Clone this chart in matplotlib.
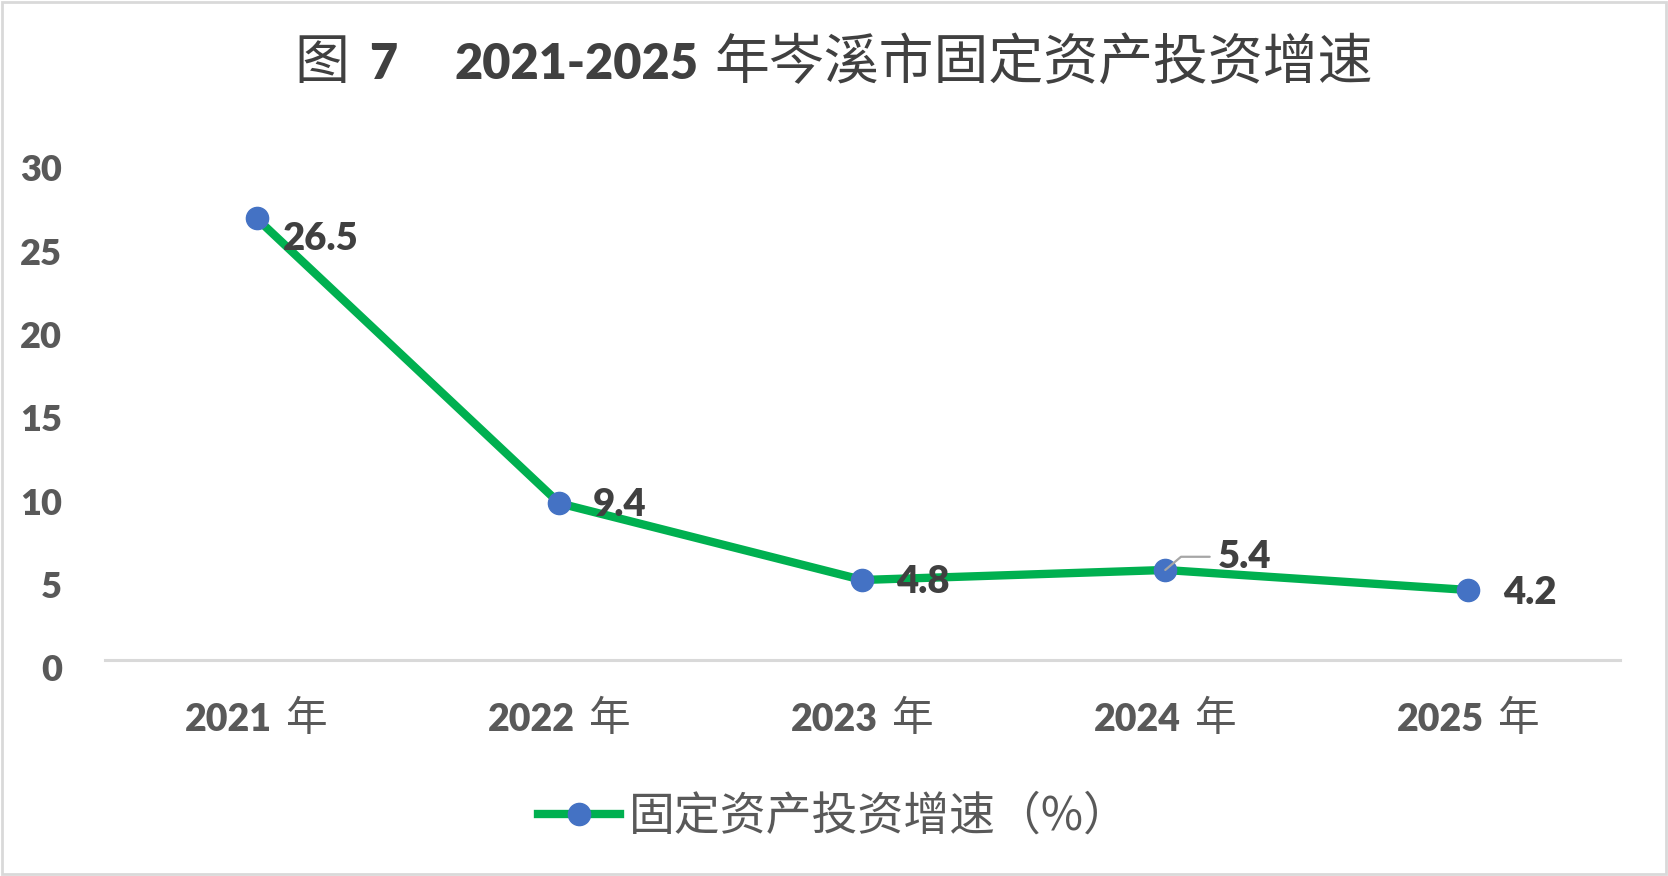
import matplotlib
matplotlib.use("Agg")
import matplotlib.pyplot as plt
from matplotlib.font_manager import FontProperties
from matplotlib.offsetbox import TextArea, HPacker, DrawingArea, AnchoredOffsetbox, AnnotationBbox
from matplotlib.patches import Rectangle
from matplotlib.transforms import ScaledTranslation

years = ["2021", "2022", "2023", "2024", "2025"]
growth = [26.5, 9.4, 4.8, 5.4, 4.2]
y_ticks = [0, 5, 10, 15, 20, 25, 30]
series_name = "固定资产投资增速（%）"
title_parts = ["图", "7", "2021-2025", "年岑溪市固定资产投资增速"]

# label offsets in points (dx, dy)
label_offsets = [(19, -15), (24, -1.5), (24, -1.5), (38, 9.5), (25, -2)]

GREEN = "#00b050"
BLUE = "#4472c4"
GRID = "#d9d9d9"
TICK_C = "#595959"
LABEL_C = "#404040"
NUM_W = "heavy"

cjk = ["Noto Sans CJK SC", "DejaVu Sans"]
num = ["Lato", "Noto Sans CJK SC", "DejaVu Sans"]
plt.rcParams["font.family"] = cjk

fig = plt.figure(figsize=(16.68, 8.76), dpi=100)
ax = fig.add_axes([0.063, 0.2466, 0.908, 0.5708])

x = list(range(len(years)))
ax.plot(x, growth, color=GREEN, lw=6, marker="o", ms=16,
        markerfacecolor=BLUE, markeredgecolor=BLUE, solid_joinstyle="round",
        label=series_name, zorder=3)

ax.set_xlim(-0.5, len(years) - 0.5)
ax.set_ylim(0, 30)
ax.set_yticks(y_ticks)
ax.set_yticklabels([str(v) for v in y_ticks], fontfamily=num, fontweight=NUM_W)
ax.set_xticks([])
for s in ["top", "right", "left"]:
    ax.spines[s].set_visible(False)
ax.spines["bottom"].set_color(GRID)
ax.spines["bottom"].set_linewidth(2.2)
ax.tick_params(axis="y", length=0, pad=31, labelsize=26, labelcolor=TICK_C)
shift = ScaledTranslation(0, -8 / 100, fig.dpi_scale_trans)
for lab in ax.get_yticklabels():
    lab.set_transform(lab.get_transform() + shift)

# x tick labels: bold digits + light CJK
fp_num_tick = FontProperties(family=num, weight=NUM_W, size=27)
fp_cjk_tick = FontProperties(family=cjk, size=30)
for i, yr in enumerate(years):
    box = HPacker(children=[
        TextArea(yr, textprops=dict(fontproperties=fp_num_tick, color=TICK_C)),
        DrawingArea(10, 1),
        TextArea("年", textprops=dict(fontproperties=fp_cjk_tick, color=TICK_C)),
    ], sep=0, pad=0, align="baseline")
    ab = AnnotationBbox(box, (i, 0), xybox=(0, -43), boxcoords="offset points",
                        frameon=False, box_alignment=(0.5, 0.5),
                        annotation_clip=False)
    ax.add_artist(ab)

# data labels
for i, (v, (dx, dy)) in enumerate(zip(growth, label_offsets)):
    kw = {}
    if i == 3:
        kw["arrowprops"] = dict(arrowstyle="-", color="#a6a6a6", lw=1.6,
                                connectionstyle="angle,angleA=0,angleB=40,rad=0",
                                relpos=(0, 0.5), shrinkA=4, shrinkB=0)
    ax.annotate(f"{v:.1f}", (i, v), xytext=(dx, dy), textcoords="offset points",
                ha="left", va="center", fontsize=27.5, fontweight=NUM_W,
                family=num, color=LABEL_C, zorder=4, **kw)

# title
fp_num_title = FontProperties(family=num, weight=NUM_W, size=35)
fp_cjk_title = FontProperties(family=cjk, size=39.5)
title_box = HPacker(children=[
    TextArea(title_parts[0], textprops=dict(fontproperties=fp_cjk_title, color=LABEL_C)),
    DrawingArea(14, 1),
    TextArea(title_parts[1], textprops=dict(fontproperties=fp_num_title, color=LABEL_C)),
    DrawingArea(41, 1),
    TextArea(title_parts[2], textprops=dict(fontproperties=fp_num_title, color=LABEL_C)),
    DrawingArea(12, 1),
    TextArea(title_parts[3], textprops=dict(fontproperties=fp_cjk_title, color=LABEL_C)),
], sep=0, pad=0, align="baseline")
fig.add_artist(AnchoredOffsetbox(loc="center", child=title_box, frameon=False,
                                 bbox_to_anchor=(0.5, 0.928),
                                 bbox_transform=fig.transFigure, pad=0, borderpad=0))

# legend
leg = fig.legend(loc="center", bbox_to_anchor=(0.5, 0.068), frameon=False,
                 fontsize=33, handlelength=1.8, handletextpad=0.2,
                 markerscale=1.0)
for t in leg.get_texts():
    t.set_color(TICK_C)

# outer border
fig.add_artist(Rectangle((0.001, 0.002), 0.998, 0.996, transform=fig.transFigure,
                         fill=False, edgecolor=GRID, lw=2))

fig.savefig("out.png", dpi=100, facecolor="white")
